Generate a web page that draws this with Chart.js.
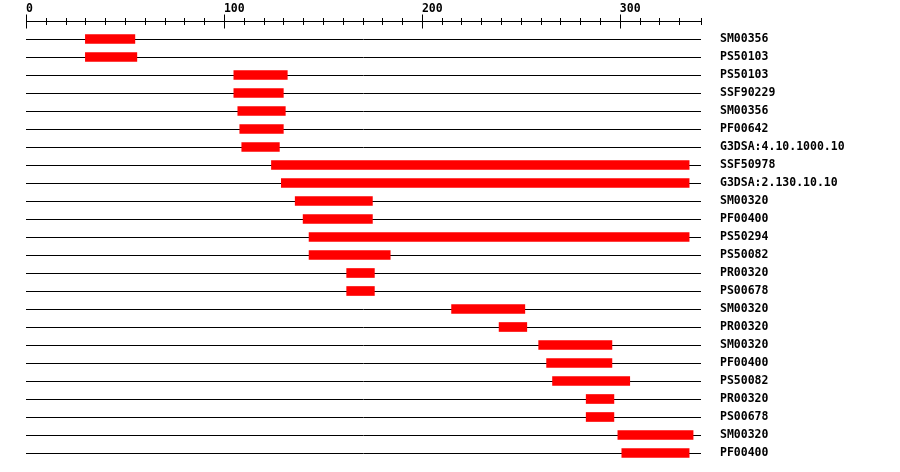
<!DOCTYPE html>
<html lang="en">
<head>
  <meta charset="UTF-8">
  <title>Domain map</title>
  <script src="https://cdn.jsdelivr.net/npm/chart.js"></script>
  <style>
    body { margin: 0; background: #fff; }
    canvas { display: block; }
  </style>
</head>
<body>
  <canvas id="domainChart" width="900" height="472"></canvas>

  <script>
    // domain names, one row each (top to bottom)
    const domains = [
      'SM00356', 'PS50103', 'PS50103', 'SSF90229', 'SM00356', 'PF00642',
      'G3DSA:4.10.1000.10', 'SSF50978', 'G3DSA:2.130.10.10', 'SM00320',
      'PF00400', 'PS50294', 'PS50082', 'PR00320', 'PS00678', 'SM00320',
      'PR00320', 'SM00320', 'PF00400', 'PS50082', 'PR00320', 'PS00678',
      'SM00320', 'PF00400'
    ];
    // start / end positions of each domain
    const starts = [30, 30, 105, 105, 107, 108, 109, 124, 129, 136, 140, 143,
                    143, 162, 162, 215, 239, 259, 263, 266, 283, 283, 299, 301];
    const ends   = [55, 56, 132, 130, 131, 130, 128, 335, 335, 175, 175, 335,
                    184, 176, 176, 252, 253, 296, 296, 305, 297, 297, 337, 335];
    const seqLength = 341;
    const tickStep = 10;
    const labelStep = 100;

    const FONT = { family: "'DejaVu Sans Mono', monospace", size: 11.5, weight: 'bold' };

    // ruler along the top axis: line plus long/short ticks crossing it
    const ruler = {
      id: 'ruler',
      afterDraw(chart) {
        const sc = chart.scales.x;
        const ctx = chart.ctx;
        const y = sc.bottom - 8.5;
        ctx.save();
        ctx.strokeStyle = '#000';
        ctx.lineWidth = 1;
        ctx.beginPath();
        ctx.moveTo(sc.left, y);
        ctx.lineTo(sc.right, y);
        const vals = [];
        for (let v = 0; v < seqLength - 5; v += tickStep) vals.push(v);
        vals.push(seqLength);
        vals.forEach(v => {
          const x = Math.round(sc.getPixelForValue(v)) + 0.5;
          const len = v % labelStep === 0 ? 7 : 3.5;
          ctx.moveTo(x, y - len);
          ctx.lineTo(x, y + len);
        });
        ctx.stroke();
        ctx.restore();
      }
    };

    new Chart(document.getElementById('domainChart'), {
      type: 'bar',
      data: {
        labels: domains,
        datasets: [{
          data: domains.map((d, i) => [starts[i], ends[i]]),
          backgroundColor: '#ff0000',
          borderWidth: 0,
          barThickness: 9
        }]
      },
      options: {
        indexAxis: 'y',
        responsive: false,
        animation: false,
        layout: { padding: { left: 26, bottom: 10, top: 0, right: 0 } },
        plugins: { legend: { display: false }, tooltip: { enabled: false } },
        scales: {
          x: {
            position: 'top',
            min: 0,
            max: seqLength,
            afterFit: s => { s.height = 30; },
            grid: { display: false, drawTicks: true, tickLength: 14 },
            border: { display: false },
            ticks: {
              stepSize: labelStep,
              align: 'start',
              padding: 0,
              color: '#000',
              font: FONT,
              callback: v => (v % labelStep === 0 ? v : '')
            }
          },
          y: {
            position: 'right',
            afterFit: s => { s.width = 199; },
            // invisible tick marks give the gap between row lines and names
            grid: { offset: false, drawTicks: true, tickLength: 19, tickColor: 'rgba(0,0,0,0)', color: '#000', lineWidth: 1 },
            border: { display: false },
            ticks: { padding: 0, color: '#000', font: FONT, autoSkip: false }
          }
        }
      },
      plugins: [ruler]
    });
  </script>
</body>
</html>
